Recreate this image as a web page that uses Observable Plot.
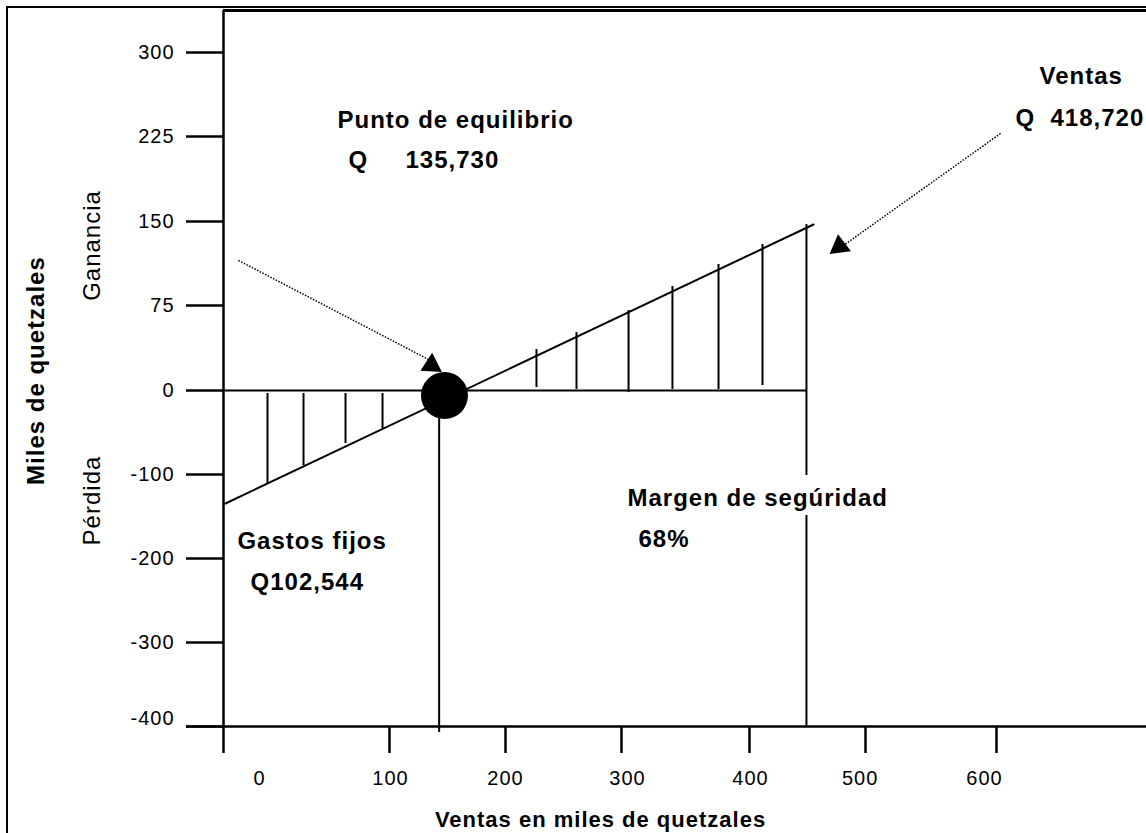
<!DOCTYPE html>
<html>
<head>
<meta charset="utf-8">
<script src="https://cdn.jsdelivr.net/npm/d3@7"></script>
<script src="https://cdn.jsdelivr.net/npm/@observablehq/plot@0.6"></script>
<style>
html, body { margin: 0; padding: 0; background: #fff; overflow: hidden; }
#wrap { position: relative; width: 1146px; height: 833px; }
#chart { position: absolute; left: 0; top: 0; }
#border { position: absolute; left: 6px; top: 6px; width: 1200px; height: 900px;
  border-left: 2px solid #000; border-top: 2px solid #000; pointer-events: none; }
</style>
</head>
<body>
<div id="wrap"><div id="chart"></div><div id="border"></div></div>
<script>
// ---- axes (tick values and labels) ----
const yTicks = [300, 225, 150, 75, 0, -100, -200, -300, -400];
const yTickLabels = ["300", "225", "150", "75", "0", "-100", "-200", "-300", "-400"];
const yLabelAt = [300, 225, 150, 75, 0, -100, -200, -300, -390.5];
const yLabelX = -29.5;
const yTickLeft = -22.3;
const xTicks = [0, 100, 200, 300, 400, 500, 600];
const xTickLabels = ["0", "100", "200", "300", "400", "500", "600"];
const xLabelAt = [21.7, 100.9, 200, 304.7, 400.9, 495.4, 590.8];
const xLabelY = -461.9;
const xTickBottom = -432.1;
const axisLeftEnd = -22.3;
const axisRightEnd = 714.5;
const axisTop = 337.5;

// ---- result line (ventas - costos), miles de quetzales ----
const resultX = [1.2, 455.2];
const resultY = [-134.5, 147.3];

// ---- hatching: loss side ----
const lossHatchX = [26.5, 48.2, 73.5, 95.8];
const lossHatchTop = [-3.6, -3.6, -3.6, -3.6];
const lossHatchBottom = [-110.7, -89.3, -63.1, -45.2];

// ---- hatching: profit side ----
const gainHatchX = [226.7, 261.2, 305.5, 339.8, 375.8, 411.2];
const gainHatchTop = [36.2, 51.2, 70.6, 92, 111.6, 129.5];
const gainHatchBottom = [2.6, 0.9, -2.4, 0.9, 0.9, 4.4];

// ---- break-even point and sales ----
const breakEvenX = [147.4];
const breakEvenY = [-6];
const breakEvenDropX = [142.8];
const breakEvenDropY1 = [-33.3];
const breakEvenDropY2 = [-407];
const salesX = 449.1;
const salesSegY1 = [147.3, -148.8];
const salesSegY2 = [-101.2, -401];

// ---- arrows ----
const arrowFromX = [9.0, 603.1];
const arrowFromY = [115.2, 227.7];
const arrowToX = [135.3, 481.0];
const arrowToY = [26.5, 128.6];
const headX = [136.2, 477.6];
const headY = [22.3, 127.7];
const headAngle = [3, 233];

// ---- annotations ----
const noteText = ["Punto de equilibrio", "Q", "135,730", "Ventas", "Q", "418,720",
  "Gastos fijos", "Q102,544", "Margen de segúridad", "68%"];
const noteX = [68.7, 75.3, 113.8, 632.8, 614.5, 641.2, 8.4, 16.3, 304.7, 313.3];
const noteY = [239.3, 203.8, 203.8, 278.6, 241.1, 241.1, -179.8, -228.6, -128.6, -177.4];

const sideText = ["Ganancia", "Pérdida"];
const sideX = [-78.9, -78.9];
const sideY = [128.6, -131];

const yTitle = "Miles de quetzales";
const yTitleX = -112.7, yTitleY = 17.6;
const xTitle = "Ventas en miles de quetzales";
const xTitleX = 281.9, xTitleY = -510.7;

// ---- tables built from the arrays ----
const lossHatch = lossHatchX.map((x, i) => ({x, y1: lossHatchTop[i], y2: lossHatchBottom[i]}));
const gainHatch = gainHatchX.map((x, i) => ({x, y1: gainHatchTop[i], y2: gainHatchBottom[i]}));
const resultLine = resultX.map((x, i) => ({x, y: resultY[i]}));
const salesSegs = salesSegY1.map((y1, i) => ({x: salesX, y1, y2: salesSegY2[i]}));
const arrows = arrowFromX.map((x1, i) => ({x1, y1: arrowFromY[i], x2: arrowToX[i], y2: arrowToY[i]}));
const heads = headX.map((x, i) => ({x, y: headY[i], a: headAngle[i]}));
const notes = noteText.map((t, i) => ({t, x: noteX[i], y: noteY[i]}));
const sides = sideText.map((t, i) => ({t, x: sideX[i], y: sideY[i]}));
const xLabels = xTickLabels.map((t, i) => ({t, x: xLabelAt[i]}));
const yLabels = yTickLabels.map((t, i) => ({t, y: yLabelAt[i]}));

const fontFamily = "'Liberation Sans', Arial, Helvetica, sans-serif";

const chart = Plot.plot({
  width: 1146,
  height: 833,
  marginLeft: 223,
  marginTop: 10,
  marginRight: 0,
  marginBottom: 107,
  style: {fontFamily, fontSize: "20px", letterSpacing: "1px", background: "#fff", color: "#000", overflow: "visible"},
  x: {type: "linear", domain: xTicks, range: [223, 389, 505, 621, 749, 865, 996], axis: null},
  y: {type: "linear", domain: yTicks, range: [52, 136, 221, 305, 390, 474, 558, 642, 726], axis: null},
  marks: [
    // frame lines
    Plot.ruleY([axisTop], {x1: 0, x2: axisRightEnd, stroke: "#000", strokeWidth: 3}),
    Plot.ruleX([0], {y1: axisTop, y2: -400, stroke: "#000", strokeWidth: 2.5}),
    Plot.ruleY([-400], {x1: axisLeftEnd, x2: axisRightEnd, stroke: "#000", strokeWidth: 2.5}),
    // y axis ticks and labels
    Plot.ruleY(yTicks, {y: d => d, x1: yTickLeft, x2: 0, stroke: "#000", strokeWidth: 2.5}),
    Plot.text(yLabels, {x: yLabelX, y: "y", text: "t", textAnchor: "end", fontSize: 20, fill: "#000"}),
    // x axis ticks and labels
    Plot.ruleX(xTicks, {y1: -400, y2: xTickBottom, stroke: "#000", strokeWidth: 2.5}),
    Plot.text(xLabels, {x: "x", y: xLabelY, text: "t", fontSize: 20, fill: "#000"}),
    // zero line
    Plot.ruleY([0], {x1: 0, x2: salesX, stroke: "#000", strokeWidth: 2}),
    // hatching
    Plot.ruleX(lossHatch, {x: "x", y1: "y1", y2: "y2", stroke: "#000", strokeWidth: 2}),
    Plot.ruleX(gainHatch, {x: "x", y1: "y1", y2: "y2", stroke: "#000", strokeWidth: 2}),
    // result line
    Plot.line(resultLine, {x: "x", y: "y", stroke: "#000", strokeWidth: 2}),
    // sales vertical (with gap for text)
    Plot.ruleX(salesSegs, {x: "x", y1: "y1", y2: "y2", stroke: "#000", strokeWidth: 2}),
    // break-even drop line
    Plot.ruleX(breakEvenDropX, {x: d => d, y1: breakEvenDropY1[0], y2: breakEvenDropY2[0], stroke: "#000", strokeWidth: 2}),
    // break-even point
    Plot.dot(breakEvenX, {x: d => d, y: breakEvenY[0], r: 23.5, fill: "#000", stroke: "none"}),
    // dotted arrows
    Plot.link(arrows, {x1: "x1", y1: "y1", x2: "x2", y2: "y2", stroke: "#000", strokeWidth: 1.5, strokeDasharray: "1.5,1.5"}),
    Plot.dot(heads, {x: "x", y: "y", rotate: "a", symbol: "triangle", r: 8, fill: "#000", stroke: "none"}),
    // annotations
    Plot.text(notes, {x: "x", y: "y", text: "t", textAnchor: "start", fontSize: 24, fontWeight: "bold", fill: "#000"}),
    Plot.text(sides, {x: "x", y: "y", text: "t", rotate: -90, fontSize: 24, fill: "#000"}),
    Plot.text([yTitle], {x: yTitleX, y: yTitleY, text: d => d, rotate: -90, fontSize: 24, fontWeight: "bold", fill: "#000"}),
    Plot.text([xTitle], {x: xTitleX, y: xTitleY, text: d => d, fontSize: 22, fontWeight: "bold", fill: "#000"})
  ]
});
document.getElementById("chart").appendChild(chart);
</script>
</body>
</html>
